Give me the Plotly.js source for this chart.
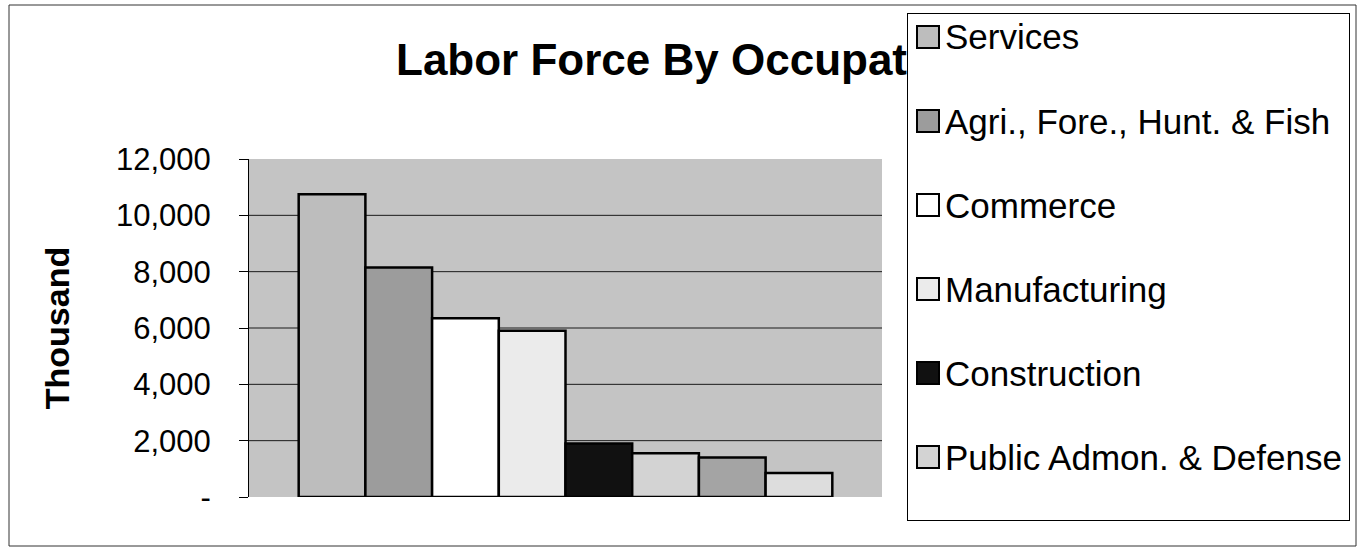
<!DOCTYPE html>
<html>
<head>
<meta charset="utf-8">
<script src="https://cdn.plot.ly/plotly-3.0.1.min.js"></script>
<style>
  html, body { margin: 0; padding: 0; background: #ffffff; }
  #chart { width: 1363px; height: 554px; }
</style>
</head>
<body>
<div id="chart"></div>
<script>
// ---- data ----
const seriesNames = [
  "Services",
  "Agri., Fore., Hunt. & Fish",
  "Commerce",
  "Manufacturing",
  "Construction",
  "Public Admon. & Defense",
  "Transport & Communications",
  "Other"
];
const seriesValues = [10750, 8150, 6350, 5900, 1900, 1550, 1400, 850];
const seriesColors = ["#bdbdbd", "#9c9c9c", "#ffffff", "#ebebeb", "#111111", "#d3d3d3", "#a4a4a4", "#dddddd"];
const legendShown = [true, true, true, true, true, true, false, false];
const category = ["Labor Force"];
const tickVals = [0, 2000, 4000, 6000, 8000, 10000, 12000];
const tickText = ["-", "2,000", "4,000", "6,000", "8,000", "10,000", "12,000"];
const gridVals = [2000, 4000, 6000, 8000, 10000];
// the title is cut off by the legend box in the original; only this part is visible
const titleText = "Labor Force By Occupat";
const yTitleText = "Thousand";

// ---- geometry (pixels) ----
const W = 1363, H = 554;
const plotL = 249, plotR = 882, plotT = 159, plotB = 497;
const pw = plotR - plotL, ph = plotB - plotT;
const px = v => (v - plotL) / pw;
const py = v => (plotB - v) / ph;

const FONT = "Arial, 'Liberation Sans', Helvetica, sans-serif";

const traces = seriesNames.map((name, i) => ({
  type: "bar",
  name: name,
  x: category,
  y: [seriesValues[i]],
  marker: { color: seriesColors[i], line: { color: "#000000", width: 2.5 } },
  showlegend: false,
  hoverinfo: "name+y"
}));

const shapes = [];
// gridlines
gridVals.forEach(v => shapes.push({
  type: "line", xref: "paper", yref: "y", x0: 0, x1: 1, y0: v, y1: v,
  line: { color: "#1a1a1a", width: 1 }, layer: "below"
}));
// outer chart border
shapes.push({
  type: "rect", xref: "paper", yref: "paper",
  x0: px(9), x1: px(1356), y0: py(546), y1: py(5),
  line: { color: "#333333", width: 1 }, fillcolor: "rgba(0,0,0,0)", layer: "below"
});

const annotations = [];
// legend box
annotations.push({
  xref: "paper", yref: "paper", x: px(907), y: py(13), xanchor: "left", yanchor: "top",
  text: " ", showarrow: false, width: 441, height: 506,
  bgcolor: "#ffffff", bordercolor: "#000000", borderwidth: 1, borderpad: 0,
  font: { size: 2 }
});
let k = 0;
seriesNames.forEach((name, i) => {
  if (!legendShown[i]) return;
  const cy = 37 + k * 84;
  annotations.push({
    xref: "paper", yref: "paper", x: px(928), y: py(cy), xanchor: "center", yanchor: "middle",
    text: " ", showarrow: false, width: 20, height: 20,
    bgcolor: seriesColors[i], bordercolor: "#000000", borderwidth: 2, borderpad: 0,
    font: { size: 2 }
  });
  annotations.push({
    xref: "paper", yref: "paper", x: px(943), y: py(cy), xanchor: "left", yanchor: "middle",
    text: name, showarrow: false,
    font: { family: FONT, size: 35, color: "#000000" }
  });
  k++;
});

const layout = {
  width: W, height: H,
  paper_bgcolor: "#ffffff",
  plot_bgcolor: "#c4c4c4",
  margin: { l: plotL, r: W - plotR, t: plotT, b: H - plotB, autoexpand: false },
  showlegend: false,
  barmode: "group",
  bargap: 0.157,
  bargroupgap: 0,
  title: {
    text: "<b>" + titleText + "</b>",
    font: { family: FONT, size: 44, color: "#000000" },
    xref: "container", yref: "container",
    x: 396 / W, xanchor: "left",
    y: 1 - 60 / H, yanchor: "middle"
  },
  xaxis: {
    type: "category",
    range: [-0.5, 0.5],
    showticklabels: false,
    showgrid: false,
    zeroline: false,
    showline: false,
    ticks: "",
    fixedrange: true
  },
  yaxis: {
    range: [0, 12000],
    tickvals: tickVals,
    ticktext: tickText,
    ticks: "outside",
    ticklen: 9,
    tickcolor: "#000000",
    tickwidth: 1,
    ticklabelstandoff: 22,
    tickfont: { family: FONT, size: 31, color: "#000000" },
    showgrid: false,
    zeroline: false,
    showline: true,
    linecolor: "#000000",
    linewidth: 1,
    automargin: false,
    title: {
      text: "<b>" + yTitleText + "</b>",
      font: { family: FONT, size: 34, color: "#000000" },
      standoff: 36
    },
    fixedrange: true
  },
  shapes: shapes,
  annotations: annotations
};

Plotly.newPlot("chart", traces, layout, { displayModeBar: false, staticPlot: true });
</script>
</body>
</html>
